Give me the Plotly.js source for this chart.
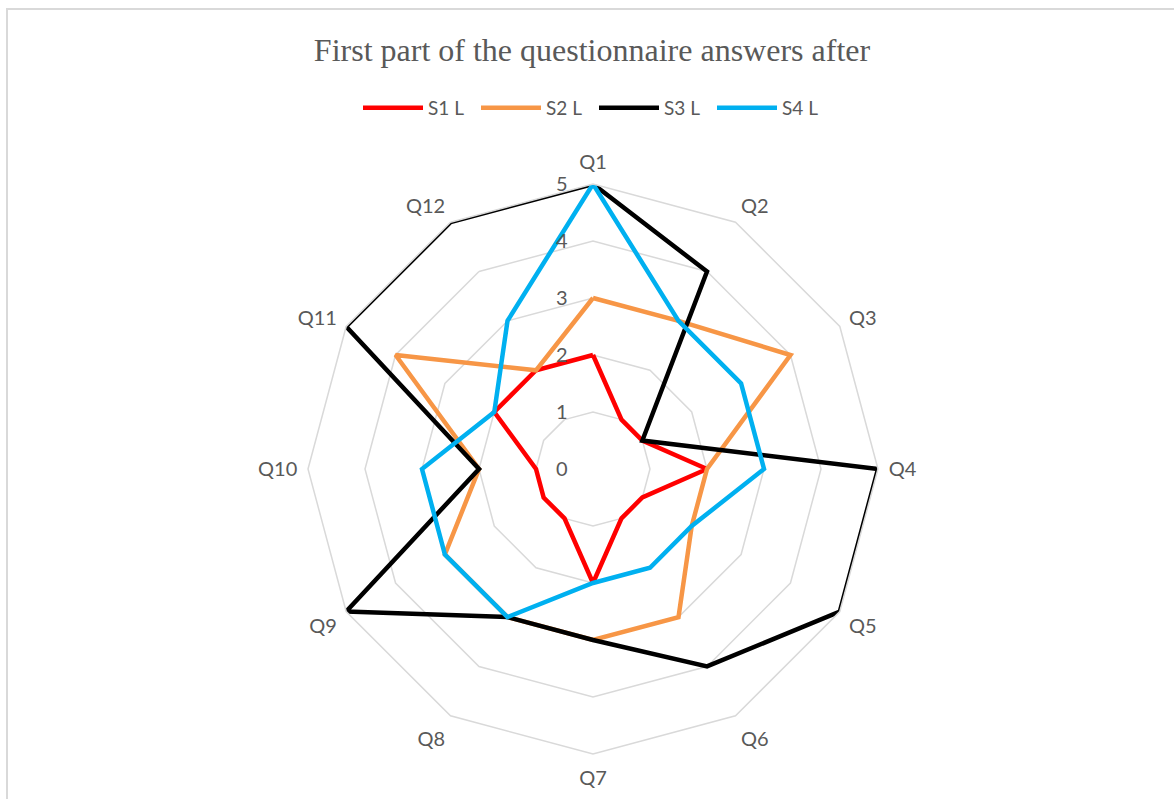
<!DOCTYPE html>
<html>
<head>
<meta charset="utf-8">
<script src="https://cdn.plot.ly/plotly-3.0.1.min.js"></script>
<style>
html,body{margin:0;padding:0;background:#fff;}
#frame{position:absolute;left:6px;top:8px;width:1180px;height:800px;border:2px solid #d9d9d9;box-sizing:border-box;}
#chart{position:absolute;left:0;top:0;width:1174px;height:799px;}
</style>
</head>
<body>
<div id="frame"></div>
<div id="chart"></div>
<script>
const categories = ["Q1","Q2","Q3","Q4","Q5","Q6","Q7","Q8","Q9","Q10","Q11","Q12"];
const seriesNames = ["S1 L","S2 L","S3 L","S4 L"];
const s1 = [2,1,1,2,1,1,2,1,1,1,2,2];
const s2 = [3,3,4,2,2,3,3,3,3,2,4,2];
const s3 = [5,4,1,5,5,4,3,3,5,2,5,5];
const s4 = [5,3,3,3,2,2,2,3,3,3,2,3];
const colors = ["#ff0000","#f79646","#000000","#00b0f0"];

const allSeries = [s1,s2,s3,s4];
const traces = allSeries.map((vals,i)=>({
  type:"scatterpolar",
  mode:"lines",
  name: seriesNames[i],
  r: vals.concat([vals[0]]),
  theta: categories.concat([categories[0]]),
  line:{color:colors[i], width:4.5},
  hoverinfo:"name+r+theta"
}));

const W=1174,H=799;
const cx=593, cy=469, R=285;
const layout = {
  width:W, height:H,
  paper_bgcolor:"rgba(0,0,0,0)",
  plot_bgcolor:"rgba(0,0,0,0)",
  margin:{l:0,r:0,t:0,b:0},
  font:{family:"Lato, 'Open Sans', sans-serif", color:"#595959", size:16},
  title:{
    text:"First part of the questionnaire answers after",
    font:{family:"'Liberation Serif', 'Times New Roman', serif", size:32, color:"#595959"},
    x:592/W, xanchor:"center", xref:"paper",
    y:1-50/H, yanchor:"middle", yref:"container"
  },
  showlegend:true,
  legend:{
    orientation:"h",
    x:594/W, xanchor:"center",
    y:1-108/H, yanchor:"middle",
    font:{size:19, color:"#595959"},
    itemwidth:60,
    entrywidth:43,
    entrywidthmode:"pixels",
    traceorder:"normal"
  },
  polar:{
    domain:{x:[(cx-R)/W,(cx+R)/W], y:[(H-cy-R)/H,(H-cy+R)/H]},
    bgcolor:"rgba(0,0,0,0)",
    gridshape:"linear",
    angularaxis:{
      type:"category",
      categoryarray:categories,
      direction:"clockwise",
      rotation:90,
      showgrid:false,
      showline:true,
      linecolor:"#d9d9d9",
      linewidth:1.5,
      ticks:"outside",
      ticklen:6,
      tickcolor:"rgba(0,0,0,0)",
      tickfont:{size:20,color:"#595959"}
    },
    radialaxis:{
      range:[0,5],
      dtick:1,
      tick0:0,
      angle:90,
      tickangle:90,
      side:"counterclockwise",
      showline:false,
      ticks:"outside",
      ticklen:18,
      tickcolor:"rgba(0,0,0,0)",
      gridcolor:"#d9d9d9",
      gridwidth:1.5,
      tickfont:{size:20,color:"#595959"}
    }
  }
};
Plotly.newPlot("chart", traces, layout, {displayModeBar:false, staticPlot:true});
</script>
</body>
</html>
